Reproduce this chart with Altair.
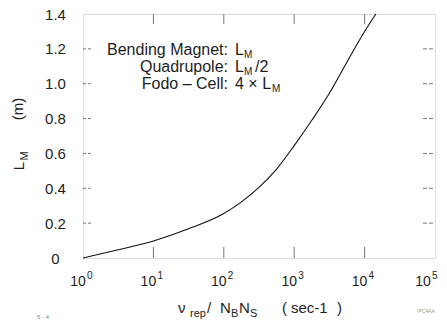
import altair as alt
import pandas as pd

# ---- data ----
x_vals = [1, 3.16, 10, 31.6, 100, 178, 316, 562, 1000, 1778, 3162, 5623, 10000, 14450]
lm_vals = [0.0, 0.047, 0.098, 0.168, 0.255, 0.322, 0.405, 0.510, 0.645, 0.790, 0.945, 1.125, 1.300, 1.400]
x_ticks = [1, 10, 100, 1000, 10000, 100000]
x_exps = ["0", "1", "2", "3", "4", "5"]
x_inner_ticks = [10, 100, 1000, 10000]
y_ticks = [0, 0.2, 0.4, 0.6, 0.8, 1.0, 1.2, 1.4]
y_inner_ticks = [0.2, 0.4, 0.6, 0.8, 1.0, 1.2]
legend_names = ["Bending Magnet:", "Quadrupole:", "Fodo \u2013 Cell:"]

W, H = 352, 244
FONT = "Liberation Sans"
INK = "#1e1e1e"

curve_df = pd.DataFrame({"x": x_vals, "y": lm_vals})
xlab_df = pd.DataFrame({"x": x_ticks, "e": x_exps})
xit_df = pd.DataFrame({"x": x_inner_ticks})
yit_df = pd.DataFrame({"y": y_inner_ticks})
one = pd.DataFrame({"a": [0]})

xscale = alt.Scale(type="log", domain=[1, 100000])
yscale = alt.Scale(domain=[0, 1.4])
yaxis = alt.Axis(values=y_ticks,
                 labelExpr="datum.value == 0 ? '0' : format(datum.value, '.1f')",
                 title=None, ticks=False, tickSize=0, domain=False, grid=False,
                 labelFont=FONT, labelFontSize=15, labelColor=INK, labelOverlap=False,
                 labelAlign="center", labelPadding=28, labelFlush=False)


def X():
    return alt.X("x:Q", scale=xscale, axis=None)


def Y():
    return alt.Y("y:Q", scale=yscale, axis=yaxis)


curve = alt.Chart(curve_df).mark_line(color="#111", strokeWidth=1.1, interpolate="monotone").encode(
    x=X(), y=Y())

# x tick labels: "10" plus a raised exponent, one small layer per decade
label_shift = [-5, -5, -5, -5, -5, -12]
xlabels = []
for i, s in enumerate(label_shift):
    base = alt.Chart(xlab_df).transform_filter(alt.datum.x == x_ticks[i])
    xlabels.append(base.mark_text(text="10", font=FONT, fontSize=14, color=INK, align="center",
                                  baseline="alphabetic", dx=s).encode(x=X(), y=alt.value(H + 28)))
    xlabels.append(base.mark_text(font=FONT, fontSize=10, color=INK, align="left",
                                  baseline="alphabetic", dx=s + 9).encode(
        x=X(), y=alt.value(H + 21), text="e:N"))

tick_col = "#777"
bottom_ticks = alt.Chart(xit_df).mark_rule(color=tick_col, strokeWidth=1).encode(
    x=X(), y=alt.value(H), y2=alt.value(H - 11))
top_ticks = alt.Chart(xit_df).mark_rule(color=tick_col, strokeWidth=1).encode(
    x=X(), y=alt.value(0), y2=alt.value(10))
left_ticks = alt.Chart(yit_df).mark_rule(color=tick_col, strokeWidth=1, strokeDash=[3, 2]).encode(
    y=Y(), x=alt.value(0), x2=alt.value(9))
right_ticks = alt.Chart(yit_df).mark_rule(color=tick_col, strokeWidth=1, strokeDash=[4, 2]).encode(
    y=Y(), x=alt.value(W - 12), x2=alt.value(W))


def txt(t, x, y, size=15, align="left", angle=0, color=INK):
    return alt.Chart(one).mark_text(text=t, font=FONT, fontSize=size, align=align,
                                    baseline="alphabetic", angle=angle, color=color).encode(
        x=alt.value(x), y=alt.value(y))


texts = [
    # legend block
    txt(legend_names[0], 145, 41, 16, "right"),
    txt(legend_names[1], 145, 58, 16, "right"),
    txt(legend_names[2], 145, 75, 16, "right"),
    txt("L", 152, 41, 16), txt("M", 161, 44, 10),
    txt("L", 152, 58, 16), txt("M", 161, 61, 10), txt("/2", 172, 58, 16),
    txt("4 \u00d7 L", 152, 75, 16), txt("M", 189, 78, 10),
    # x title
    txt("\u03bd", 95, 299, 15), txt("rep", 107, 303, 11), txt("/", 124, 299, 15),
    txt("N", 137, 299, 15), txt("B", 148, 303, 11), txt("N", 156, 299, 15), txt("S", 167, 303, 11),
    txt("(", 199, 299, 15), txt("sec-1", 208, 299, 15), txt(")", 254, 299, 15),
    # y title
    txt("L", -59, 152, 15, "center", 270), txt("M", -55, 142, 11, "center", 270),
    txt("(m)", -60, 95, 15, "center", 270),
    # tiny scan marks
    txt("5 - 4", -46, 305, 6, "left", 0, "#888"),
    txt("!PC4AA", 334, 299, 5, "left", 0, "#999"),
]

chart = alt.layer(curve, left_ticks, right_ticks, bottom_ticks, top_ticks, *xlabels, *texts).properties(
    width=W, height=H,
    autosize=alt.AutoSizeParams(type="none"),
    padding={"left": 83, "top": 14, "right": 12, "bottom": 68},
).configure_view(stroke="#3a3a3a", strokeWidth=1).configure(background="white")

chart.save("out.html", embed_options={"renderer": "svg", "actions": False})
